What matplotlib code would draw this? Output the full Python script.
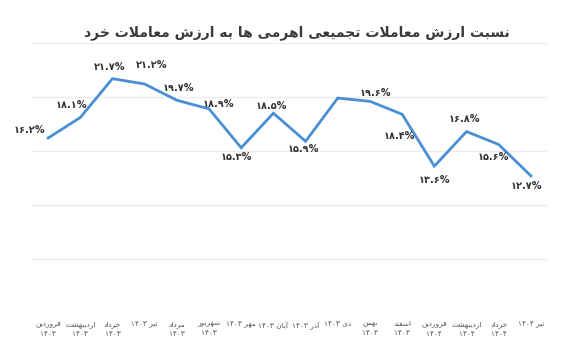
import matplotlib
matplotlib.use('Agg')
import matplotlib.pyplot as plt

# data
months = ['فروردین', 'اردیبهشت', 'خرداد', 'تیر', 'مرداد', 'شهریور', 'مهر', 'آبان',
          'آذر', 'دی', 'بهمن', 'اسفند', 'فروردین', 'اردیبهشت', 'خرداد', 'تیر']
years = ['۱۴۰۳'] * 12 + ['۱۴۰۴'] * 4
values = [16.2, 18.1, 21.7, 21.2, 19.7, 18.9, 15.3, 18.5, 15.9, 19.9, 19.6, 18.4, 13.6, 16.8, 15.6, 12.7]
value_labels = ['۱۶.۲%', '۱۸.۱%', '۲۱.۷%', '۲۱.۲%', '۱۹.۷%', '۱۸.۹%', '۱۵.۳%', '۱۸.۵%',
                '۱۵.۹%', '', '۱۹.۶%', '۱۸.۴%', '۱۳.۶%', '۱۶.۸%', '۱۵.۶%', '۱۲.۷%']
one_line = [3, 6, 7, 8, 9, 15]  # months shown on a single line with the year
title = 'نسبت ارزش معاملات تجمیعی اهرمی ها به ارزش معاملات خرد'

# label offsets in pixels (dx, dy)
offsets = [(-19, 8), (-9, 13), (-3, 12), (7, 19), (2, 12), (9, 5), (-5, -9), (-2, 7),
           (-2, -8), (0, 0), (5, 8), (-3, -22), (0, -14), (-2, 13), (-5, -12), (-4, -10)]

# minimal arabic/persian shaping (isolated, final, initial, medial)
FORMS = {
    'ا': ('\uFE8D', '\uFE8E'), 'آ': ('\uFE81', '\uFE82'),
    'ب': ('\uFE8F', '\uFE90', '\uFE91', '\uFE92'), 'پ': ('\uFB56', '\uFB57', '\uFB58', '\uFB59'),
    'ت': ('\uFE95', '\uFE96', '\uFE97', '\uFE98'), 'ج': ('\uFE9D', '\uFE9E', '\uFE9F', '\uFEA0'),
    'خ': ('\uFEA5', '\uFEA6', '\uFEA7', '\uFEA8'), 'د': ('\uFEA9', '\uFEAA'),
    'ذ': ('\uFEAB', '\uFEAC'), 'ر': ('\uFEAD', '\uFEAE'), 'ز': ('\uFEAF', '\uFEB0'),
    'س': ('\uFEB1', '\uFEB2', '\uFEB3', '\uFEB4'), 'ش': ('\uFEB5', '\uFEB6', '\uFEB7', '\uFEB8'),
    'ع': ('\uFEC9', '\uFECA', '\uFECB', '\uFECC'), 'ف': ('\uFED1', '\uFED2', '\uFED3', '\uFED4'),
    'ل': ('\uFEDD', '\uFEDE', '\uFEDF', '\uFEE0'), 'م': ('\uFEE1', '\uFEE2', '\uFEE3', '\uFEE4'),
    'ن': ('\uFEE5', '\uFEE6', '\uFEE7', '\uFEE8'), 'و': ('\uFEED', '\uFEEE'),
    'ه': ('\uFEE9', '\uFEEA', '\uFEEB', '\uFEEC'), 'ی': ('\uFBFC', '\uFBFD', '\uFBFE', '\uFBFF'),
}


def shape(text):
    chars = list(text)
    out = []
    i = 0
    while i < len(chars):
        c = chars[i]
        if c not in FORMS:
            out.append(c)
            i += 1
            continue
        prev = chars[i - 1] if i > 0 else ''
        join_prev = prev in FORMS and len(FORMS[prev]) == 4
        if c == 'ل' and i + 1 < len(chars) and chars[i + 1] == 'ا':
            out.append('\uFEFC' if join_prev else '\uFEFB')
            i += 2
            continue
        nxt = chars[i + 1] if i + 1 < len(chars) else ''
        f = FORMS[c]
        join_next = len(f) == 4 and nxt in FORMS
        if join_prev and join_next:
            out.append(f[3])
        elif join_prev:
            out.append(f[1])
        elif join_next:
            out.append(f[2])
        else:
            out.append(f[0])
        i += 1
    return ''.join(out)[::-1]


tick_labels = []
for i, (m, y) in enumerate(zip(months, years)):
    if i in one_line:
        tick_labels.append(y + ' ' + shape(m))
    else:
        tick_labels.append(shape(m) + '\n' + y)

plt.rcParams['font.family'] = ['DejaVu Sans']

fig = plt.figure(figsize=(5.68, 3.6), dpi=100)
ax = fig.add_axes([32 / 568, 1 - 313 / 360, 515 / 568, 270 / 360])

x = list(range(len(values)))
ax.plot(x, values, color='#4a8fd4', linewidth=2, solid_joinstyle='miter', zorder=3)

for i, (v, lab) in enumerate(zip(values, value_labels)):
    if not lab:
        continue
    dx, dy = offsets[i]
    ax.annotate(lab, (i, v), xytext=(dx * 0.72, dy * 0.72), textcoords='offset points',
                ha='center', va='center', fontsize=7, fontweight='bold', color='#333333')

ax.set_xlim(-0.5, len(values) - 0.5)
ax.set_ylim(0, 25)
ax.set_yticks([0, 5, 10, 15, 20, 25])
ax.yaxis.grid(True, color='#ececec', linewidth=1)
ax.set_axisbelow(True)
ax.tick_params(axis='y', left=False, labelleft=False)
ax.tick_params(axis='x', length=0, pad=6)
ax.set_xticks(x)
ax.set_xticklabels(tick_labels, fontsize=5.3, color='#555555', linespacing=1.6)
for s in ax.spines.values():
    s.set_visible(False)

fig.text(297 / 568, 1 - 33 / 360, shape(title), ha='center', va='center',
         fontsize=10, fontweight='bold', color='#3a3a3a')

fig.savefig('out.png', dpi=100, facecolor='white')
